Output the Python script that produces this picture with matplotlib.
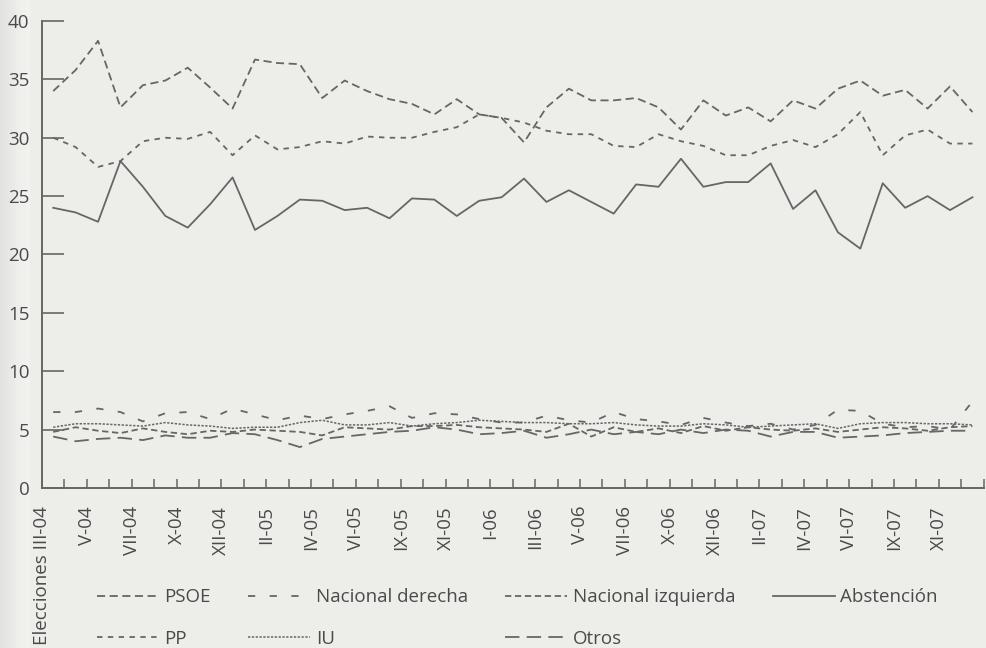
import matplotlib
matplotlib.use('Agg')
import matplotlib.pyplot as plt
import numpy as np

# Meses de los barómetros (sin agosto)
meses = ['Elecciones III-04', 'IV-04', 'V-04', 'VI-04', 'VII-04', 'IX-04', 'X-04', 'XI-04', 'XII-04',
         'I-05', 'II-05', 'III-05', 'IV-05', 'V-05', 'VI-05', 'VII-05', 'IX-05', 'X-05', 'XI-05', 'XII-05',
         'I-06', 'II-06', 'III-06', 'IV-06', 'V-06', 'VI-06', 'VII-06', 'IX-06', 'X-06', 'XI-06', 'XII-06',
         'I-07', 'II-07', 'III-07', 'IV-07', 'V-07', 'VI-07', 'VII-07', 'IX-07', 'X-07', 'XI-07', 'XII-07']

psoe = [34.0, 35.8, 38.3, 32.6, 34.5, 34.9, 36.0, 34.3, 32.5, 36.7, 36.4, 36.3, 33.4, 34.9,
        34.0, 33.3, 32.9, 32.0, 33.3, 32.0, 31.7, 29.6, 32.6, 34.2, 33.2, 33.2, 33.4, 32.6,
        30.7, 33.2, 31.9, 32.6, 31.4, 33.2, 32.5, 34.2, 34.9, 33.6, 34.1, 32.5, 34.4, 32.2]
pp = [30.0, 29.2, 27.5, 28.0, 29.7, 30.0, 29.9, 30.5, 28.5, 30.2, 29.0, 29.2, 29.7, 29.5,
      30.1, 30.0, 30.0, 30.5, 30.9, 32.0, 31.7, 31.3, 30.6, 30.3, 30.3, 29.3, 29.2, 30.3,
      29.7, 29.3, 28.5, 28.5, 29.3, 29.8, 29.2, 30.3, 32.2, 28.5, 30.2, 30.7, 29.5, 29.5]
abstencion = [24.0, 23.6, 22.8, 28.0, 25.8, 23.3, 22.3, 24.3, 26.6, 22.1, 23.3, 24.7, 24.6, 23.8,
              24.0, 23.1, 24.8, 24.7, 23.3, 24.6, 24.9, 26.5, 24.5, 25.5, 24.5, 23.5, 26.0, 25.8,
              28.2, 25.8, 26.2, 26.2, 27.8, 23.9, 25.5, 21.9, 20.5, 26.1, 24.0, 25.0, 23.8, 24.9]
nac_derecha = [6.5, 6.5, 6.8, 6.5, 5.7, 6.4, 6.5, 5.9, 6.8, 6.3, 5.8, 6.2, 5.9, 6.3,
               6.6, 7.0, 6.0, 6.4, 6.3, 5.9, 5.6, 5.6, 6.2, 5.8, 5.6, 6.5, 5.9, 5.7,
               5.4, 6.0, 5.6, 5.3, 5.5, 5.0, 5.4, 6.7, 6.6, 5.5, 5.2, 5.3, 5.0, 7.4]
iu = [5.2, 5.5, 5.5, 5.4, 5.3, 5.6, 5.4, 5.3, 5.1, 5.2, 5.2, 5.6, 5.8, 5.4,
      5.4, 5.6, 5.3, 5.5, 5.6, 5.8, 5.7, 5.6, 5.6, 5.5, 5.5, 5.6, 5.4, 5.3,
      5.3, 5.5, 5.4, 5.2, 5.3, 5.4, 5.5, 5.1, 5.5, 5.6, 5.6, 5.5, 5.5, 5.4]
nac_izquierda = [4.8, 5.2, 4.9, 4.7, 5.1, 4.8, 4.6, 4.9, 4.8, 5.0, 4.9, 4.8, 4.5, 5.2,
                 5.1, 5.0, 5.3, 5.3, 5.4, 5.2, 5.1, 5.0, 4.8, 5.5, 4.4, 5.2, 4.8, 5.1,
                 4.7, 5.3, 4.9, 5.2, 5.0, 4.9, 5.1, 4.8, 5.0, 5.2, 5.1, 4.9, 5.2, 5.3]
otros = [4.4, 4.0, 4.2, 4.3, 4.1, 4.5, 4.3, 4.3, 4.7, 4.6, 4.1, 3.5, 4.2, 4.4,
         4.6, 4.8, 4.9, 5.2, 5.0, 4.6, 4.7, 4.9, 4.3, 4.6, 5.0, 4.6, 4.8, 4.6,
         5.0, 4.7, 5.0, 4.9, 4.4, 4.8, 4.8, 4.3, 4.4, 4.5, 4.7, 4.8, 4.9, 4.9]

plt.rcParams['font.family'] = ['Open Sans', 'DejaVu Sans']
fondo = '#edede9'
gris = '#666666'
texto = '#4a4a4a'

fig = plt.figure(figsize=(9.86, 6.48), dpi=100, facecolor=fondo)

# sombra del lomo del libro a la izquierda
sombra = fig.add_axes([0, 0, 0.03, 1])
sombra.imshow(np.linspace(0, 1, 60).reshape(1, -1), cmap='Greys_r', vmin=-2.2, vmax=1.0,
              aspect='auto', extent=(0, 1, 0, 1), alpha=0.35)
sombra.set_axis_off()

ax = fig.add_axes([0.0426, 0.247, 0.955, 0.7206], facecolor='none')

x = np.arange(len(meses)) + 0.5
lw = 1.3
ax.plot(x, psoe, color=gris, lw=lw, ls=(0, (4.5, 2.5)), label='PSOE')
ax.plot(x, pp, color=gris, lw=lw, ls=(0, (3, 3)), label='PP')
ax.plot(x, nac_derecha, color=gris, lw=lw, ls=(0, (4, 8)), label='Nacional derecha')
ax.plot(x, iu, color=gris, lw=1.1, ls=(0, (1.5, 1)), label='IU')
ax.plot(x, nac_izquierda, color=gris, lw=lw, ls=(0, (3.5, 2)), label='Nacional izquierda')
ax.plot(x, otros, color=gris, lw=lw, ls=(0, (8, 4)), label='Otros')
ax.plot(x, abstencion, color=gris, lw=lw, ls='-', label='Abstención')

ax.set_xlim(0, len(meses))
ax.set_ylim(0, 40)

for lado in ['top', 'right']:
    ax.spines[lado].set_visible(False)
for lado in ['left', 'bottom']:
    ax.spines[lado].set_color(gris)
    ax.spines[lado].set_linewidth(1.4)

ax.set_yticks(range(0, 41, 5))
ax.tick_params(axis='y', direction='in', length=16, width=1.2, color=gris,
               labelsize=13.5, labelcolor=texto, pad=9)

ax.set_xticks(range(0, len(meses) + 1))
etiquetas = [meses[i] if (i % 2 == 0 and i < len(meses)) else '' for i in range(len(meses) + 1)]
ax.set_xticklabels(etiquetas, rotation=90, va='top', ha='center')
ax.tick_params(axis='x', direction='in', length=6.5, width=1.1, color=gris,
               labelsize=13.5, labelcolor=texto, pad=13)

leg = fig.legend(loc='upper left', bbox_to_anchor=(0.098, 0.092), ncol=4, frameon=False,
                 fontsize=13.5, labelcolor=texto, handlelength=3.3, handletextpad=0.3,
                 columnspacing=2.0, labelspacing=1.25, borderpad=0, borderaxespad=0)

fig.savefig('out.png', dpi=100, facecolor=fondo)
